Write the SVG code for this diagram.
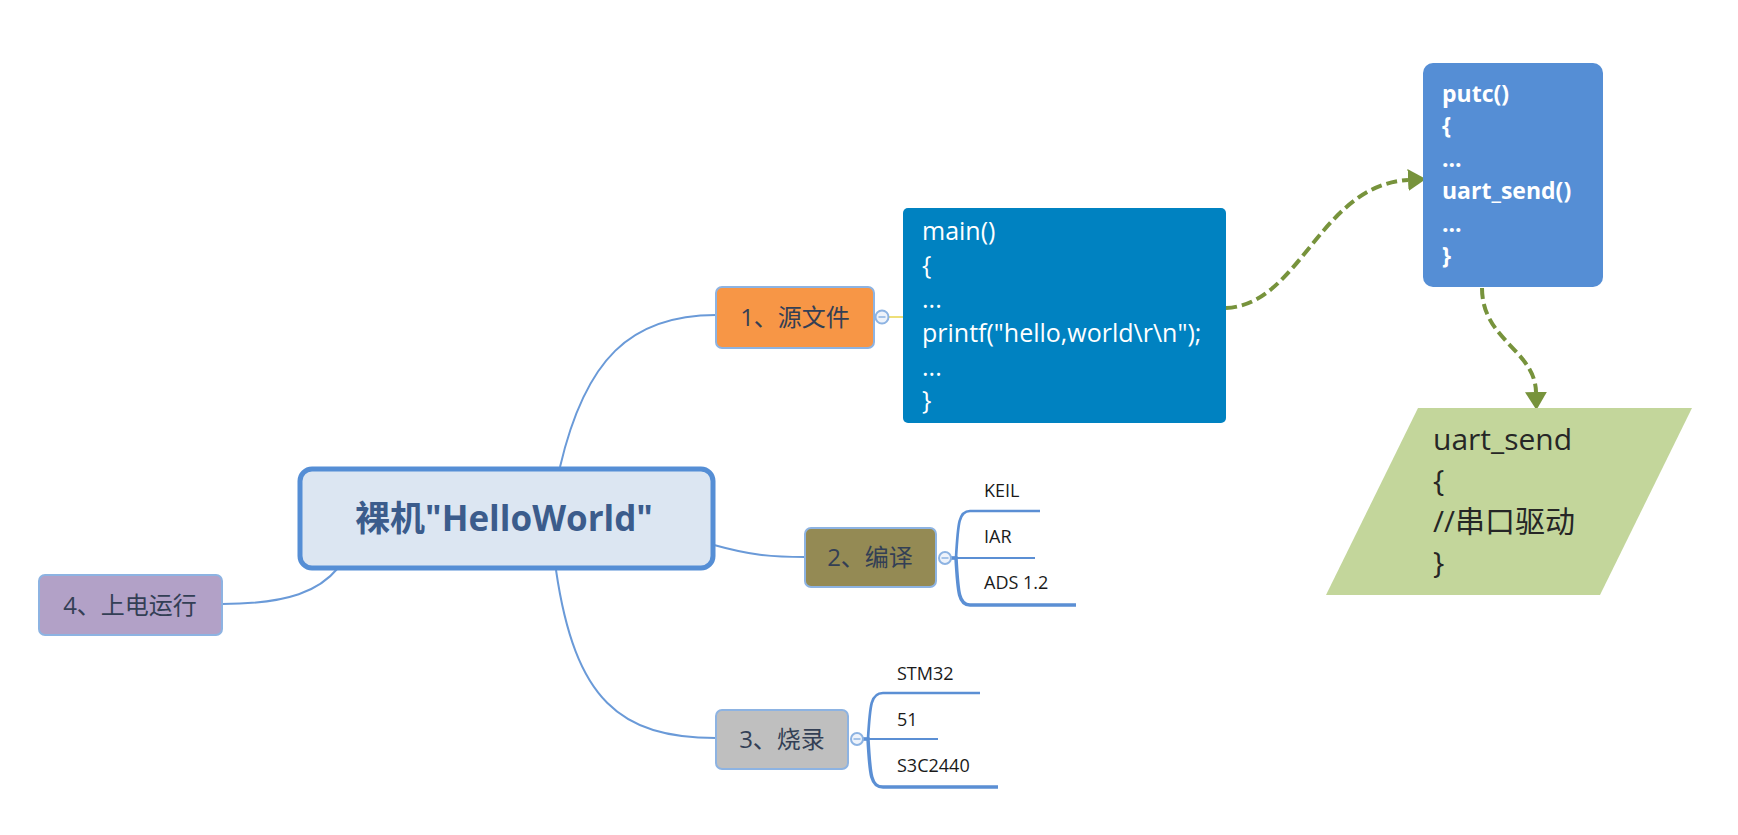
<svg xmlns="http://www.w3.org/2000/svg" width="1738" height="835" viewBox="0 0 1738 835">
<style>
  .lbl { font-family: "Open Sans", "Noto Sans CJK SC", sans-serif; font-size: 24px; fill: #333f55; text-anchor: middle; }
  .sub { font-family: "Open Sans", "Noto Sans CJK SC", sans-serif; font-size: 18px; fill: #1a1a1a; }
  .node { stroke: #8db3e2; stroke-width: 2; }
  .conn { fill: none; stroke: #6a9ad8; stroke-width: 2; }
  .br { fill: none; stroke: #5b8fd4; }
  .dash { fill: none; stroke: #77933c; stroke-width: 4; stroke-dasharray: 11 5; }
  .code { font-family: "Open Sans", "Noto Sans CJK SC", sans-serif; font-size: 25px; fill: #ffffff; }
  .codeb { font-family: "Open Sans", "Noto Sans CJK SC", sans-serif; font-size: 23px; font-weight: bold; fill: #ffffff; }
  .gtext { font-family: "Open Sans", "Noto Sans CJK SC", sans-serif; font-size: 30px; fill: #262626; }
  .tog { fill: #eef3fb; stroke: #8db3e2; stroke-width: 2; }
</style>
<defs>
  <marker id="arr" viewBox="0 0 18 22" refX="0" refY="11" markerWidth="18" markerHeight="22" markerUnits="userSpaceOnUse" orient="auto">
    <path d="M0,0 L18,11 L0,22 z" fill="#77933c"/>
  </marker>
</defs>
<rect width="1738" height="835" fill="#ffffff"/>

<g id="connectors">
  <path class="conn" d="M560,467 C585,360 630,315 716,315"/>
  <path class="conn" d="M714,545 C750,555 770,557 805,557"/>
  <path class="conn" d="M556,570 C575,700 620,738 716,738"/>
  <path class="conn" d="M222,604 C290,604 320,590 338,568"/>
  <line x1="889" y1="317" x2="903" y2="317" stroke="#e8d44d" stroke-width="1.5"/>
  <path class="br" stroke-width="2.7" d="M951,558 L956,558 C958,522 959,511 970,511 L1040,511"/>
  <path class="br" stroke-width="2" d="M951,558 L1035,558"/>
  <path class="br" stroke-width="3.5" d="M951,558 L956,558 C958,594 959,605 970,605 L1076,605"/>
  <path class="br" stroke-width="2.7" d="M863,739 L868,739 C870,704 871,693 883,693 L980,693"/>
  <path class="br" stroke-width="2" d="M863,739 L938,739"/>
  <path class="br" stroke-width="3.5" d="M863,739 L868,739 C870,776 871,787 883,787 L998,787"/>
  <path class="dash" d="M1226,308 C1300,305 1320,185 1408,180" marker-end="url(#arr)"/>
  <path class="dash" d="M1482,288 C1482,340 1535,350 1536,392" marker-end="url(#arr)"/>
</g>

<g id="central">
  <rect x="300" y="469" width="413" height="99" rx="12" fill="#dce6f2" stroke="#558ed5" stroke-width="5"/>
  <text x="504" y="531" font-family="Open Sans, Noto Sans CJK SC, sans-serif" font-size="35" font-weight="bold" fill="#3b5c8c" text-anchor="middle">裸机"HelloWorld"</text>
</g>

<g id="node1">
  <rect class="node" x="716" y="287" width="158" height="61" rx="6" fill="#f79646"/>
  <text class="lbl" x="795" y="326">1、源文件</text>
  <circle class="tog" cx="882" cy="317" r="6.5"/>
  <line x1="878.5" y1="317" x2="885.5" y2="317" stroke="#8db3e2" stroke-width="1.5"/>
</g>

<g id="node2">
  <rect class="node" x="805" y="528" width="131" height="59" rx="6" fill="#948a54"/>
  <text class="lbl" x="870" y="566">2、编译</text>
  <circle class="tog" cx="945" cy="558" r="6"/>
  <line x1="941.5" y1="558" x2="948.5" y2="558" stroke="#8db3e2" stroke-width="1.5"/>
</g>

<g id="node3">
  <rect class="node" x="716" y="710" width="132" height="59" rx="6" fill="#bfbfbf"/>
  <text class="lbl" x="782" y="748">3、烧录</text>
  <circle class="tog" cx="857" cy="739" r="6"/>
  <line x1="853.5" y1="739" x2="860.5" y2="739" stroke="#8db3e2" stroke-width="1.5"/>
</g>

<g id="node4">
  <rect class="node" x="39" y="575" width="183" height="60" rx="6" fill="#b2a1c7"/>
  <text class="lbl" x="130" y="614">4、上电运行</text>
</g>

<g id="keil"><text class="sub" x="984" y="497">KEIL</text></g>
<g id="iar"><text class="sub" x="984" y="543">IAR</text></g>
<g id="ads"><text class="sub" x="984" y="589">ADS 1.2</text></g>
<g id="stm32"><text class="sub" x="897" y="680">STM32</text></g>
<g id="n51"><text class="sub" x="897" y="726">51</text></g>
<g id="s3c"><text class="sub" x="897" y="772">S3C2440</text></g>

<g id="mainbox">
  <rect x="903" y="208" width="323" height="215" rx="5" fill="#0082c1"/>
  <text class="code" x="922" y="240">main()</text>
  <text class="code" x="922" y="274">{</text>
  <text class="code" x="922" y="308">...</text>
  <text class="code" x="922" y="342">printf("hello,world\r\n");</text>
  <text class="code" x="922" y="376">...</text>
  <text class="code" x="922" y="409">}</text>
</g>

<g id="putcbox">
  <rect x="1423" y="63" width="180" height="224" rx="10" fill="#558ed5"/>
  <text class="codeb" x="1442" y="102">putc()</text>
  <text class="codeb" x="1442" y="134">{</text>
  <text class="codeb" x="1442" y="167">...</text>
  <text class="codeb" x="1442" y="199">uart_send()</text>
  <text class="codeb" x="1442" y="232">...</text>
  <text class="codeb" x="1442" y="264">}</text>
</g>

<g id="uartsend">
  <polygon points="1418,408 1692,408 1600,595 1326,595" fill="#c3d69b"/>
  <text class="gtext" x="1433" y="450">uart_send</text>
  <text class="gtext" x="1433" y="491">{</text>
  <text class="gtext" x="1433" y="532">//串口驱动</text>
  <text class="gtext" x="1433" y="573">}</text>
</g>
</svg>
